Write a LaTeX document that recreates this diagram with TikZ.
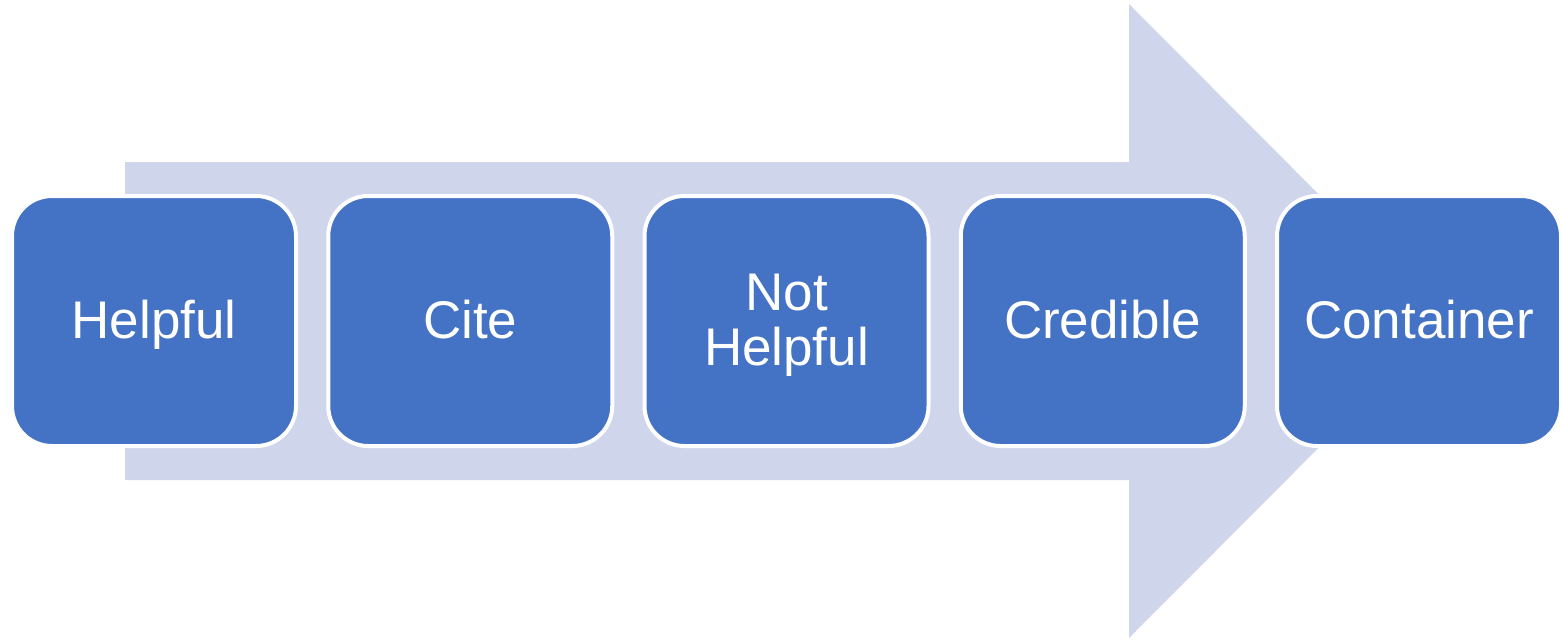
\documentclass[tikz,border=0pt]{standalone}
\usepackage{fontspec}
\setmainfont{Liberation Sans}
\definecolor{boxblue}{HTML}{4472C4}
\definecolor{arrowgray}{HTML}{CFD5EA}
\begin{document}
\begin{tikzpicture}[x=1pt,y=-1pt,
  stepbox/.style={rectangle, rounded corners=40pt, fill=boxblue, draw=white,
    line width=4pt, minimum width=284pt, minimum height=250pt, inner sep=0pt},
  steptext/.style={anchor=base, inner sep=0pt, text=white, align=center,
    font=\fontsize{53pt}{55pt}\selectfont}]
\useasboundingbox (0,0) rectangle (1561,640);
\fill[arrowgray] (125,162) -- (1129,162) -- (1129,4) -- (1445,321) -- (1129,638) -- (1129,480) -- (125,480) -- cycle;
\node[stepbox] (n1) at (154,321) {};
\node[stepbox] (n2) at (470.25,321) {};
\node[stepbox] (n3) at (786.5,321) {};
\node[stepbox] (n4) at (1102.75,321) {};
\node[stepbox] (n5) at (1419,321) {};
\node[steptext] (t1) at (154,338) {Helpful};
\node[steptext] (t2) at (470.25,338) {Cite};
\node[steptext] (t3) at (786.5,365) {Not\\Helpful};
\node[steptext] (t4) at (1102.75,338) {Credible};
\node[steptext] (t5) at (1419,338) {Container};
\end{tikzpicture}
\end{document}
